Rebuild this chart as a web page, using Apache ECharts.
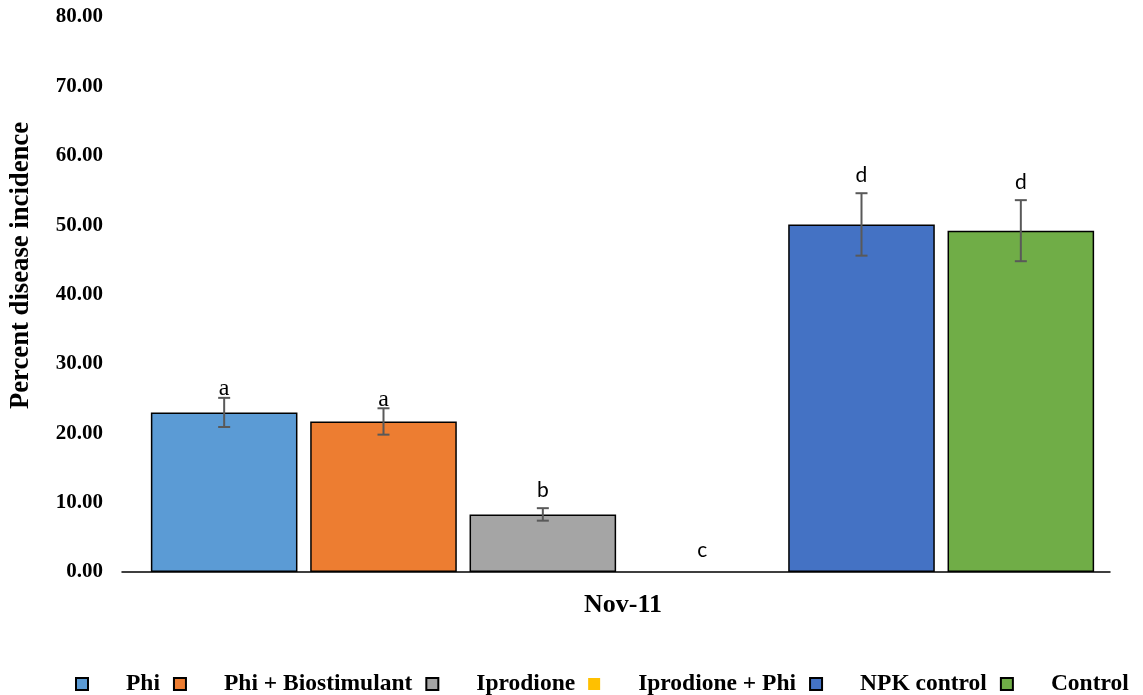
<!DOCTYPE html>
<html>
<head>
<meta charset="utf-8">
<script src="https://cdn.jsdelivr.net/npm/echarts@6/dist/echarts.min.js"></script>
<style>html,body{margin:0;padding:0;background:#fff}#c{width:1143px;height:695px}</style>
</head>
<body>
<div id="c"></div>
<script>
const dateLabels = ['Nov-11'];
const treatments = ['Phi', 'Phi + Biostimulant', 'Iprodione', 'Iprodione + Phi', 'NPK control', 'Control'];
const means = [23.0, 21.7, 8.3, 0, 50.1, 49.2];
const errors = [2.1, 1.9, 0.9, 0, 4.5, 4.4];
const letters = ['a', 'a', 'b', 'c', 'd', 'd'];
const yTicks = [0, 10, 20, 30, 40, 50, 60, 70, 80];

const colors = ['#5B9BD5', '#ED7D31', '#A5A5A5', '#FFC000', '#4472C4', '#70AD47'];
const serif = '"Liberation Serif", "Times New Roman", serif';
const sans = 'Lato, "Liberation Sans", sans-serif';

const chart = echarts.init(document.getElementById('c'), null, {renderer: 'canvas'});

const barSeries = treatments.map((name, i) => ({
  name: name,
  type: 'bar',
  xAxisIndex: 0,
  yAxisIndex: 0,
  barGap: '-100%',
  barCategoryGap: '8%',
  data: treatments.map((_, j) => j === i ? means[i] : '-'),
  itemStyle: {color: colors[i], borderColor: '#000', borderWidth: i === 3 ? 0 : 1.5},
  emphasis: {disabled: true}
}));

const errData = treatments.map((_, i) => [i, means[i] - errors[i], means[i] + errors[i]]);

const errSeries = {
  type: 'custom',
  xAxisIndex: 0,
  yAxisIndex: 0,
  z: 10,
  silent: true,
  data: errData,
  renderItem: function (params, api) {
    const idx = api.value(0);
    const lo = api.coord([idx, api.value(1)]);
    const hi = api.coord([idx, api.value(2)]);
    const x = hi[0];
    const children = [];
    const hasErr = api.value(2) > api.value(1);
    if (hasErr) {
      const st = {stroke: '#595959', lineWidth: 2};
      children.push({type: 'line', shape: {x1: x, y1: hi[1], x2: x, y2: lo[1]}, style: st});
      children.push({type: 'line', shape: {x1: x - 6, y1: hi[1], x2: x + 6, y2: hi[1]}, style: st});
      children.push({type: 'line', shape: {x1: x - 6, y1: lo[1], x2: x + 6, y2: lo[1]}, style: st});
    }
    const isSerif = params.dataIndex < 2;
    let dy;
    if (isSerif) dy = 3;
    else if (hasErr) dy = -7;
    else dy = -11;
    children.push({
      type: 'text',
      style: {
        x: x, y: hi[1] + dy,
        text: letters[params.dataIndex],
        fill: '#000',
        font: (isSerif ? '24px ' + serif : '21px ' + sans),
        align: 'center', verticalAlign: 'bottom'
      }
    });
    return {type: 'group', children: children};
  }
};

chart.setOption({
  animation: false,
  color: colors,
  grid: [
    {left: 141.5, right: 42.5, top: 17, bottom: 123, containLabel: false},
    {left: 122, right: 33, top: 17, bottom: 123, containLabel: false}
  ],
  legend: {
    top: 667,
    left: 70,
    icon: 'rect',
    itemWidth: 12,
    itemHeight: 12,
    itemGap: 13,
    selectedMode: false,
    data: treatments,
    textStyle: {fontFamily: serif, fontWeight: 'bold', fontSize: 23.5, color: '#000', padding: [0, 0, 0, 33]}
  },
  xAxis: [
    {
      type: 'category',
      gridIndex: 0,
      data: treatments,
      axisLine: {show: false},
      axisTick: {show: false},
      axisLabel: {show: false}
    },
    {
      type: 'category',
      gridIndex: 1,
      data: dateLabels,
      position: 'bottom',
      axisLine: {show: true, lineStyle: {color: '#000', width: 1.5}},
      axisTick: {show: false},
      axisLabel: {show: true, margin: 20, padding: [0, 0, 0, 14], fontFamily: serif, fontWeight: 'bold', fontSize: 26, color: '#000'}
    }
  ],
  yAxis: [
    {
      type: 'value',
      gridIndex: 0,
      min: yTicks[0],
      max: yTicks[yTicks.length - 1],
      interval: yTicks[1] - yTicks[0],
      name: 'Percent disease incidence',
      nameLocation: 'middle',
      nameGap: 109.5,
      nameTextStyle: {fontFamily: serif, fontWeight: 'bold', fontSize: 26.7, color: '#000', padding: [0, 0, 0, 58]},
      axisLine: {show: false},
      axisTick: {show: false},
      splitLine: {show: false},
      axisLabel: {
        margin: 41.5,
        fontFamily: serif, fontWeight: 'bold', fontSize: 21, color: '#000',
        formatter: v => v.toFixed(2)
      }
    },
    {
      type: 'value',
      gridIndex: 1,
      min: yTicks[0],
      max: yTicks[yTicks.length - 1],
      show: false
    }
  ],
  series: barSeries.concat([errSeries])
});
</script>
</body>
</html>
